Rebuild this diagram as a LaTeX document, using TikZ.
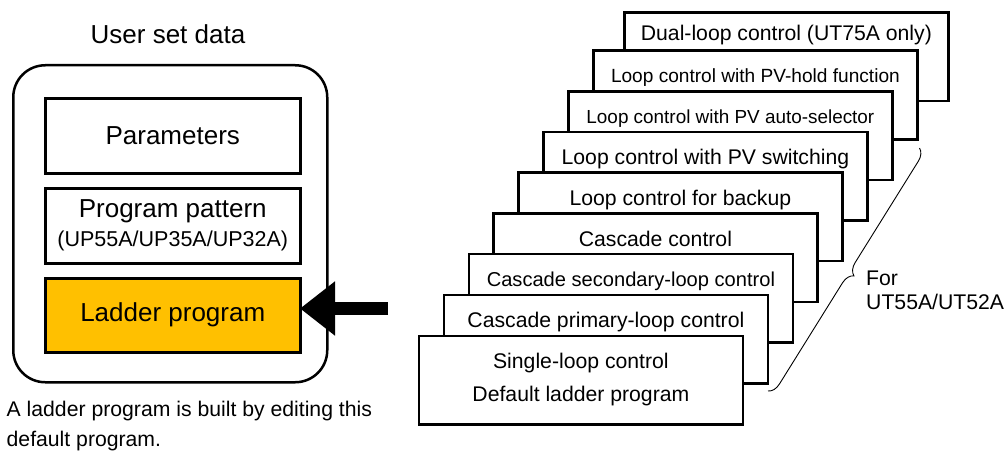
\documentclass[tikz,border=0pt]{standalone}
\usepackage{fontspec}
\setmainfont{Liberation Sans}
\usetikzlibrary{arrows.meta, positioning, decorations.pathreplacing}

\definecolor{laddergold}{HTML}{FFC000}
\newcommand{\bigfont}{\fontsize{26}{30}\selectfont}
\newcommand{\midfont}{\fontsize{21.2}{24}\selectfont}

\tikzset{
  card/.style={draw, fill=white, line width=2.8pt, inner sep=0pt, anchor=north west, minimum width=324pt, minimum height=88.5pt},
  cardlabel/.style={anchor=base, inner sep=0pt, font=\midfont, align=center},
  databox/.style={draw, line width=2.5pt, inner sep=0pt, anchor=north west, minimum width=255pt, minimum height=75pt, font=\bigfont, align=center}
}

\begin{document}
\begin{tikzpicture}[x=1pt,y=-1pt]
\useasboundingbox (0,0) rectangle (1007,452);
% User set data
\node [draw, line width=2.5pt, rounded corners=32pt, anchor=north west, minimum width=314pt, minimum height=317pt, inner sep=0pt] (userdata) at (12,64) {};
\node [font=\bigfont, anchor=base] (title) at (168,43.5) {User set data};
\node [databox] (params) at (44,97) {Parameters};
\node [databox] (pattern) at (44,187) {Program pattern\\[-1pt]{\fontsize{21.5}{26}\selectfont (UP55A/UP35A/UP32A)}};
\node [databox, fill=laddergold, minimum height=74pt] (ladder) at (44,277) {Ladder program};
\node [font=\fontsize{21.2}{30}\selectfont, anchor=base west, align=left, inner sep=0pt] (note) at (6.5,446.7) {A ladder program is built by editing this\\default program.};
% The stack of ladder programs, back to front
\node [card] (dual) at (623,11) {};
\node [cardlabel, yshift=-30pt] (dualtext) at (dual.north) {Dual-loop control (UT75A only)};
\node [card] (hold) at (592,49.5) {};
\node [cardlabel, yshift=-32.5pt, font=\fontsize{19.1}{24}\selectfont] (holdtext) at (hold.north) {Loop control with PV-hold function};
\node [card] (selector) at (567,90) {};
\node [cardlabel, yshift=-34pt, font=\fontsize{18.9}{24}\selectfont] (selectortext) at (selector.north) {Loop control with PV auto-selector};
\node [card] (switching) at (542,130.5) {};
\node [cardlabel, yshift=-34pt] (switchingtext) at (switching.north) {Loop control with PV switching};
\node [card] (backup) at (517,171) {};
\node [cardlabel, yshift=-34pt] (backuptext) at (backup.north) {Loop control for backup};
\node [card] (cascade) at (492,212) {};
\node [cardlabel, yshift=-34pt] (cascadetext) at (cascade.north) {Cascade control};
\node [card] (secondary) at (467.5,252.5) {};
\node [cardlabel, yshift=-34pt, font=\fontsize{20.1}{24}\selectfont] (secondarytext) at (secondary.north) {Cascade secondary-loop control};
\node [card] (primary) at (442.5,293.5) {};
\node [cardlabel, yshift=-34pt] (primarytext) at (primary.north) {Cascade primary-loop control};
\node [card] (single) at (417.5,334.5) {};
\node [cardlabel, yshift=-66.5pt] (singletext) at (single.north) {Single-loop control\\[8.5pt]Default ladder program};
% Brace
\coordinate (bracetop) at (919.5,148);
\coordinate (bracebot) at (768,391);
\draw [decorate, decoration={brace, amplitude=12pt}, line width=0.9pt] (bracetop) -- (bracebot);
\node [font=\midfont, align=left, anchor=base west, inner sep=0pt] (target) at (866,309.3) {For\\UT55A/UT52A};
% Arrow
\coordinate (feed) at (388,308.5);
\draw [line width=13.3pt, -{Triangle[length=35pt, width=52pt]}, shorten >=-1.5pt] (feed) -- (feed -| ladder.east);
\end{tikzpicture}
\end{document}
